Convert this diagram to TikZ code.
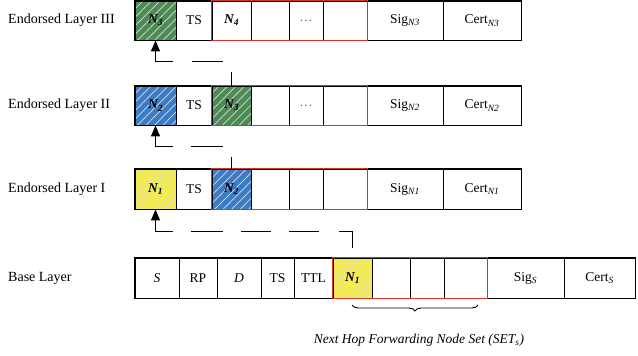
\documentclass[tikz,border=0pt]{standalone}
\usepackage{fontspec}
\setmainfont{Liberation Serif}
\usetikzlibrary{arrows.meta,patterns.meta,decorations.pathreplacing}

\definecolor{hopgreen}{HTML}{4E8B52}
\definecolor{hopblue}{HTML}{3B7CC4}
\definecolor{hopyellow}{HTML}{F3EC4C}
\definecolor{setred}{HTML}{D8302A}
\definecolor{hatch}{HTML}{D8DCE8}

\newcommand{\nodeid}[1]{{\bfseries\itshape N\textsubscript{#1}}}

\tikzset{
  cell/.style={draw=black, line width=0.9pt, inner sep=0pt, font=\fontsize{13.5}{15}\selectfont},
  hatched/.style={preaction={fill=#1}, preaction={pattern={Lines[angle=45,distance=6pt,line width=0.7pt]}, pattern color=hatch}},
  rowframe/.style={draw=black, line width=1.4pt},
  setframe/.style={draw=setred, line width=1.3pt},
  layerlabel/.style={anchor=west, inner sep=0pt, font=\fontsize{14}{16}\selectfont},
  hop/.style={line width=1.4pt, -{Triangle[length=11pt,width=9pt]}},
}

\begin{document}
\begin{tikzpicture}[x=1pt, y=-1pt]
\useasboundingbox (0,0) rectangle (638,356);

% ---- Endorsed Layer III ----
\node[layerlabel] (l3) at (8,20.5) {Endorsed Layer III};
\node[cell, hatched=hopgreen, minimum width=41, minimum height=39] (a1) at (155.5,20.5) {\nodeid{3}};
\node[cell, minimum width=36, minimum height=39] (a2) at (194,20.5) {TS};
\node[cell, minimum width=39, minimum height=39] (a3) at (231.5,20.5) {\nodeid{4}};
\node[cell, minimum width=38, minimum height=39] (a4) at (270,20.5) {};
\node[cell, minimum width=34, minimum height=39] (a5) at (306,20.5) {\textcolor{black!60}{\dots}};
\node[cell, minimum width=44, minimum height=39] (a6) at (345,20.5) {};
\node[cell, minimum width=76, minimum height=39] (a7) at (405,20.5) {Sig\textsubscript{\itshape N3}};
\node[cell, minimum width=78, minimum height=39] (a8) at (482,20.5) {Cert\textsubscript{\itshape N3}};
\draw[rowframe] (a1.north west) rectangle (a8.south east);
\draw[setframe] (a3.north west) rectangle (a6.south east);

% ---- Endorsed Layer II ----
\node[layerlabel] (l2) at (8,105.5) {Endorsed Layer II};
\node[cell, hatched=hopblue, minimum width=41, minimum height=39] (b1) at (155.5,105.5) {\nodeid{2}};
\node[cell, minimum width=36, minimum height=39] (b2) at (194,105.5) {TS};
\node[cell, hatched=hopgreen, minimum width=39, minimum height=39] (b3) at (231.5,105.5) {\nodeid{3}};
\node[cell, minimum width=38, minimum height=39] (b4) at (270,105.5) {};
\node[cell, minimum width=34, minimum height=39] (b5) at (306,105.5) {\textcolor{black!60}{\dots}};
\node[cell, minimum width=44, minimum height=39] (b6) at (345,105.5) {};
\node[cell, minimum width=76, minimum height=39] (b7) at (405,105.5) {Sig\textsubscript{\itshape N2}};
\node[cell, minimum width=78, minimum height=39] (b8) at (482,105.5) {Cert\textsubscript{\itshape N2}};
\draw[rowframe] (b1.north west) rectangle (b8.south east);
\draw[setframe] (b3.north west) rectangle (b6.south east);

% ---- Endorsed Layer I ----
\node[layerlabel] (l1) at (8,189) {Endorsed Layer I};
\node[cell, hatched=hopyellow, minimum width=41, minimum height=40] (c1) at (155.5,189) {\nodeid{1}};
\node[cell, minimum width=36, minimum height=40] (c2) at (194,189) {TS};
\node[cell, hatched=hopblue, minimum width=39, minimum height=40] (c3) at (231.5,189) {\nodeid{2}};
\node[cell, minimum width=38, minimum height=40] (c4) at (270,189) {};
\node[cell, minimum width=34, minimum height=40] (c5) at (306,189) {};
\node[cell, minimum width=44, minimum height=40] (c6) at (345,189) {};
\node[cell, minimum width=76, minimum height=40] (c7) at (405,189) {Sig\textsubscript{\itshape N1}};
\node[cell, minimum width=78, minimum height=40] (c8) at (482,189) {Cert\textsubscript{\itshape N1}};
\draw[rowframe] (c1.north west) rectangle (c8.south east);
\draw[setframe] (c3.north west) rectangle (c6.south east);

% ---- Base Layer ----
\node[layerlabel] (l0) at (8,278) {Base Layer};
\node[cell, minimum width=44, minimum height=40] (d1) at (157,278) {\itshape S};
\node[cell, minimum width=38, minimum height=40] (d2) at (198,278) {RP};
\node[cell, minimum width=44, minimum height=40] (d3) at (239,278) {\itshape D};
\node[cell, minimum width=33, minimum height=40] (d4) at (277.5,278) {TS};
\node[cell, minimum width=39, minimum height=40] (d5) at (313.5,278) {TTL};
\node[cell, hatched=hopyellow, minimum width=39, minimum height=40] (d6) at (352.5,278) {\nodeid{1}};
\node[cell, minimum width=38, minimum height=40] (d7) at (391,278) {};
\node[cell, minimum width=34, minimum height=40] (d8) at (427,278) {};
\node[cell, minimum width=43, minimum height=40] (d9) at (465.5,278) {};
\node[cell, minimum width=77, minimum height=40] (d10) at (525.5,278) {Sig\textsubscript{\itshape S}};
\node[cell, minimum width=71, minimum height=40] (d11) at (599.5,278) {Cert\textsubscript{\itshape S}};
\draw[rowframe] (d1.north west) rectangle (d11.south east);
\draw[setframe] (d6.north west) rectangle (d9.south east);

% ---- hop-by-hop endorsement links ----
\draw[hop, dash pattern=on 14pt off 19pt on 31pt off 19pt on 200pt] (b3.north) -- ++(0,-24) -| (a1.south);
\draw[hop, dash pattern=on 12pt off 19pt on 32pt off 18pt on 200pt] (c3.north) -- ++(0,-22) -| (b1.south);
\draw[hop, dash pattern=on 0pt off 10pt on 30pt off 20pt on 30pt off 18pt on 30pt off 18pt on 32pt off 18pt on 200pt]
  (d6.north) -- ++(0,-26) -| (c1.south);

% ---- next hop forwarding node set ----
\coordinate (bl) at (352,305);
\coordinate (br) at (478,305);
\draw[line width=0.9pt, decorate, decoration={brace, amplitude=6pt, mirror}] (bl) -- (br);
\node[font=\fontsize{13.5}{15}\selectfont\itshape] (cap) at (419,340) {Next Hop Forwarding Node Set (SET\textsubscript{s})};
\end{tikzpicture}
\end{document}
